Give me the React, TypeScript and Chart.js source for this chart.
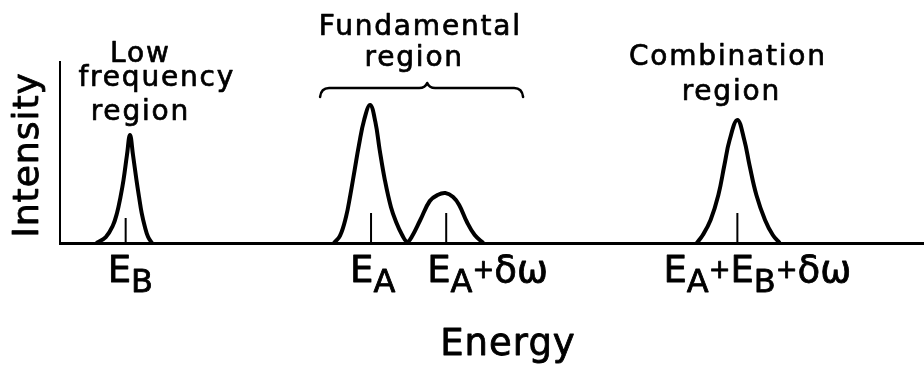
import { useEffect, useRef } from "react";
import { Chart, registerables } from "chart.js";

Chart.register(...registerables);

// Energy axis: 0–100 arbitrary units; intensity: 0–100 arbitrary units.
const lowFreqEnergy = [4.2, 5.3, 6.1, 6.6, 7.0, 7.35, 7.75, 8.1, 8.45, 8.85, 9.15, 9.45, 9.8, 10.2, 10.65];
const lowFreqIntensity = [0, 3.3, 9.4, 16.6, 25.4, 34.8, 48.6, 59.7, 48.6, 34.8, 25.4, 16.6, 9.4, 3.3, 0];

const fundamentalEnergy = [
  31.7, 32.4, 33.1, 33.6, 34.1, 34.6, 35.2, 35.9, 36.5, 37.0, 37.6, 38.3, 38.9, 39.6, 40.2,
  40.7, 41.7, 42.8, 43.7, 44.6, 45.5, 46.2, 47.1, 48.0, 49.0,
];
const fundamentalIntensity = [
  0, 3.9, 14.4, 26.5, 40.3, 54.1, 68.0, 76.2, 66.9, 51.4, 34.8, 19.9, 11.6, 4.4, 0.6,
  3.3, 12.7, 23.2, 26.5, 27.6, 25.4, 21.0, 11.6, 4.4, 0,
];

const combinationEnergy = [73.7, 74.4, 75.3, 76.2, 76.9, 77.5, 78.4, 79.2, 79.8, 80.6, 81.6, 82.5, 83.3];
const combinationIntensity = [0, 4.4, 12.7, 26.5, 43.1, 56.9, 68.0, 56.9, 43.1, 26.5, 12.7, 4.4, 0];

// Transition energies (short marker lines) and their labels
const lineEnergies = [7.6, 36.0, 44.7, 78.4];
const lineHeights = [13.8, 16.6, 16.6, 16.6];
const lineLabels = ["E_B", "E_A", "E_A+δω", "E_A+E_B+δω"];

const regionTitles = [
  ["Low", "frequency", "region"],
  ["Fundamental", "region"],
  ["Combination", "region"],
];

const xAxisTitle = "Energy";
const yAxisTitle = "Intensity";

// ---- layout / style constants ----
const FONT = '"DejaVu Sans", sans-serif';
const INK = "#000";
const LABEL_SHIFT = [-18, -21, -19, -74]; // px from marker to label start
const LABEL_BASELINE = 282;
const TITLE_LAYOUT = [
  { x: [9.3, 11.2, 9.3], y: [62, 86, 120] },
  { x: [41.7, 41.0], y: [35, 66] },
  { x: [77.3, 77.7], y: [65, 100] },
];
const BRACE = { from: 30.1, mid: 42.5, to: 53.6, y: 88, tip: 83, end: 97 };

function toPoints(xs: number[], ys: number[]) {
  return xs.map((x, i) => ({ x, y: ys[i] }));
}

// fill plus a thin outline, giving the heavier pen weight of the lettering
function inkText(ctx: CanvasRenderingContext2D, text: string, x: number, y: number, weight: number) {
  ctx.fillText(text, x, y);
  ctx.lineWidth = weight;
  ctx.strokeText(text, x, y);
}

function drawRichLabel(ctx: CanvasRenderingContext2D, label: string, x: number, baseline: number) {
  let cx = x;
  for (let i = 0; i < label.length; i++) {
    const ch = label[i];
    if (ch === "_") {
      const s = label[++i];
      ctx.font = `32px ${FONT}`;
      inkText(ctx, s, cx, baseline + 10, 0.8);
      cx += ctx.measureText(s).width;
    } else if (ch === "+") {
      ctx.font = `26px ${FONT}`;
      inkText(ctx, "+", cx, baseline - 4, 0.8);
      cx += ctx.measureText("+").width;
    } else {
      ctx.font = `37px ${FONT}`;
      inkText(ctx, ch, cx, baseline, 0.8);
      cx += ctx.measureText(ch).width;
    }
  }
}

const annotationPlugin = {
  id: "spectrumAnnotations",
  afterDraw(chart: any) {
    const { ctx, scales } = chart;
    const xs = scales.x;
    ctx.save();
    ctx.fillStyle = INK;
    ctx.strokeStyle = INK;
    ctx.lineJoin = "round";
    ctx.textBaseline = "alphabetic";

    // transition labels under the energy axis
    ctx.textAlign = "left";
    lineLabels.forEach((label, i) => {
      const px = xs.getPixelForValue(lineEnergies[i]) + LABEL_SHIFT[i];
      drawRichLabel(ctx, label, px, LABEL_BASELINE);
    });

    // region titles
    ctx.textAlign = "center";
    ctx.font = `28px ${FONT}`;
    (ctx as any).letterSpacing = "1.8px";
    regionTitles.forEach((lines, r) => {
      lines.forEach((line, k) => {
        const px = xs.getPixelForValue(TITLE_LAYOUT[r].x[k]);
        inkText(ctx, line, px, TITLE_LAYOUT[r].y[k], 0.7);
      });
    });

    // brace over the fundamental region
    const xl = xs.getPixelForValue(BRACE.from);
    const xm = xs.getPixelForValue(BRACE.mid);
    const xr = xs.getPixelForValue(BRACE.to);
    ctx.lineWidth = 2.5;
    ctx.lineCap = "round";
    ctx.beginPath();
    ctx.moveTo(xl, BRACE.end);
    ctx.quadraticCurveTo(xl + 1, BRACE.y, xl + 9, BRACE.y);
    ctx.lineTo(xm - 8, BRACE.y);
    ctx.quadraticCurveTo(xm - 2, BRACE.y, xm, BRACE.tip);
    ctx.quadraticCurveTo(xm + 2, BRACE.y, xm + 8, BRACE.y);
    ctx.lineTo(xr - 9, BRACE.y);
    ctx.quadraticCurveTo(xr - 1, BRACE.y, xr, BRACE.end);
    ctx.stroke();

    // axis titles
    ctx.font = `37px ${FONT}`;
    (ctx as any).letterSpacing = "1px";
    ctx.textAlign = "center";
    inkText(ctx, xAxisTitle, 508, 355, 0.8);

    ctx.save();
    ctx.translate(38, 155);
    ctx.rotate(-Math.PI / 2);
    ctx.font = `36px ${FONT}`;
    inkText(ctx, yAxisTitle, 0, 0, 0.8);
    ctx.restore();

    (ctx as any).letterSpacing = "0px";
    ctx.restore();
  },
};

export default function App() {
  const canvasRef = useRef<HTMLCanvasElement | null>(null);

  useEffect(() => {
    const canvas = canvasRef.current;
    if (!canvas) return;

    const markerPoints: { x: number; y: number | null }[] = [];
    lineEnergies.forEach((e, i) => {
      markerPoints.push({ x: e, y: 0 }, { x: e, y: lineHeights[i] }, { x: e, y: null });
    });

    const peakStyle = {
      borderColor: INK,
      borderWidth: 4,
      borderJoinStyle: "round" as const,
      pointRadius: 0,
      tension: 0.4,
      fill: false,
    };

    const chart = new Chart(canvas, {
      type: "line",
      data: {
        datasets: [
          { label: "Low frequency", data: toPoints(lowFreqEnergy, lowFreqIntensity), ...peakStyle },
          { label: "Fundamental", data: toPoints(fundamentalEnergy, fundamentalIntensity), ...peakStyle },
          { label: "Combination", data: toPoints(combinationEnergy, combinationIntensity), ...peakStyle },
          {
            label: "Transitions",
            data: markerPoints as any,
            borderColor: INK,
            borderWidth: 2,
            pointRadius: 0,
            tension: 0,
            spanGaps: false,
          },
        ],
      },
      options: {
        animation: false,
        responsive: false,
        devicePixelRatio: 1,
        layout: { padding: { left: 60, top: 62, right: 0, bottom: 124 } },
        plugins: { legend: { display: false }, tooltip: { enabled: false } },
        scales: {
          x: {
            type: "linear",
            min: 0,
            max: 100,
            grid: { display: false, drawTicks: false },
            ticks: { display: false },
            border: { display: true, color: INK, width: 3 },
          },
          y: {
            type: "linear",
            min: 0,
            max: 100,
            grid: { display: false, drawTicks: false },
            ticks: { display: false },
            border: { display: true, color: INK, width: 2 },
          },
        },
      },
      plugins: [annotationPlugin],
    });

    return () => chart.destroy();
  }, []);

  return (
    <div style={{ position: "fixed", left: 0, top: 0, width: 924, height: 367, background: "#fff" }}>
      <canvas ref={canvasRef} width={924} height={367} style={{ display: "block" }} />
    </div>
  );
}
